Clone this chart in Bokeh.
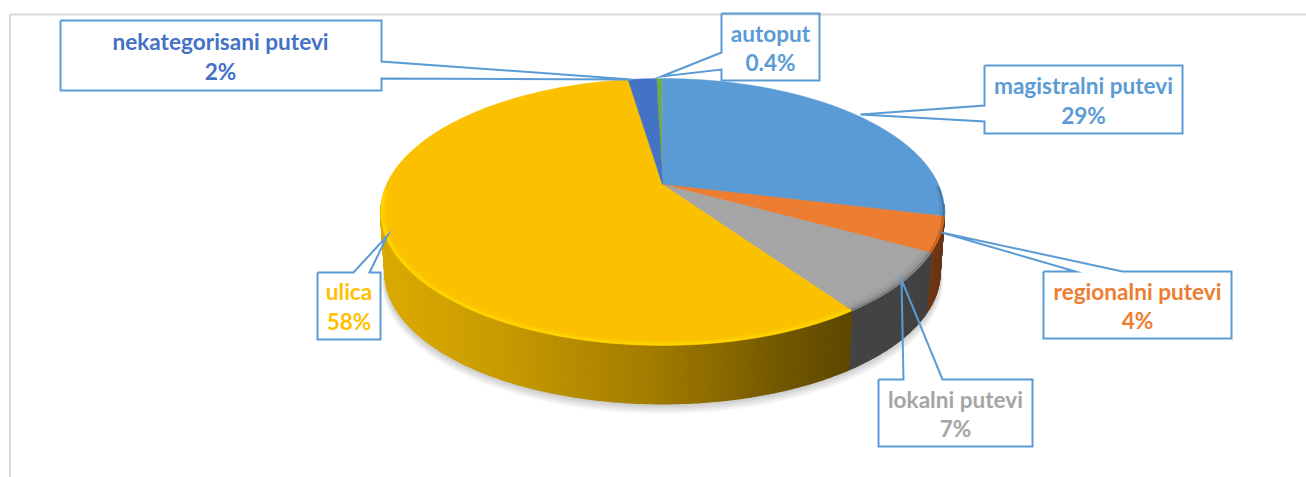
import numpy as np
from bokeh.plotting import figure
from bokeh.models import Range1d
from bokeh.core.properties import value
from bokeh.embed import file_html
from bokeh.resources import INLINE

# ---- data, in drawing order clockwise from the top
categories = ["autoput", "magistralni putevi", "regionalni putevi", "lokalni putevi", "ulica", "nekategorisani putevi"]
shares = [0.4, 29, 4.2, 7.4, 57.6, 2]      # the labels below are rounded
share_labels = ["0.4%", "29%", "4%", "7%", "58%", "2%"]
colors = ["#70AD47", "#5B9BD5", "#ED7D31", "#A5A5A5", "#FBC000", "#4472C4"]
text_colors = ["#5B9BD5", "#5B9BD5", "#ED7D31", "#A5A5A5", "#FFC000", "#4472C4"]

# ---- layout (page pixels of the screenshot)
W, H = 1306, 477
CX, CY = 662.0, 184.0
A, B, K = 276.0, 127.8, 0.206       # tilted circle -> perspective ellipse
START = -1.5                        # first slice angle, degrees
DEPTH = 61.4
LOWER = 0.985                       # the lower rim is slightly smaller
BORDER = "#5B9BD5"

label_pos = {
    "autoput": (770, 33, 62),
    "magistralni putevi": (1083, 85, 115),
    "regionalni putevi": (1137, 291, 320),
    "lokalni putevi": (955, 399, 428),
    "ulica": (348.5, 291, 321),
    "nekategorisani putevi": (220, 41, 71),
}
callouts = [
    [(60, 20), (381, 20), (381, 61), (631, 79), (381, 78), (381, 90), (60, 90)],
    [(721, 13), (721, 52), (661, 76), (721, 69), (721, 80), (819, 80), (819, 13)],
    [(984, 65), (1182, 65), (1182, 133), (984, 133), (984, 121), (860, 114), (984, 105)],
    [(1043, 271), (1075, 271), (941, 232), (1122, 271), (1231, 271), (1231, 338), (1043, 338)],
    [(878, 379), (903, 379), (901, 279), (942, 379), (1032, 379), (1032, 446), (878, 446)],
    [(317, 272), (353, 272), (387, 235), (369, 272), (380, 272), (380, 339), (317, 339)],
]


def rim(theta_deg, r=1.0, dy=0.0):
    t = np.radians(np.asarray(theta_deg, dtype=float))
    u, v = r * np.sin(t), r * np.cos(t)
    w = 1 + K * v
    return CX + A * u / w, CY + dy - B * v / w


def hexmix(stops_x, stops_rgb, x):
    rgb = [int(round(np.interp(x, stops_x, [s[i] for s in stops_rgb]))) for i in range(3)]
    return "#%02x%02x%02x" % tuple(rgb)


total = sum(shares)
edges = START + np.concatenate([[0], np.cumsum(shares)]) / total * 360.0

p = figure(width=W, height=H, x_range=Range1d(0, W), y_range=Range1d(H, 0),
           output_backend="svg", toolbar_location=None, min_border=0,
           background_fill_color="white", border_fill_color="white")
p.axis.visible = False
p.grid.visible = False
p.outline_line_color = None

# frame of the picture
p.line([9.5, 9.5, W], [H, 14, 14], line_color="#D9D9D9", line_width=2)

# soft shadow under the disc
all_t = np.linspace(0, 360, 181)
for i in range(1, 10):
    sx, sy = rim(all_t, r=LOWER + 0.0012 * i, dy=DEPTH + i * 0.9)
    p.patch(sx, sy, fill_color="black", fill_alpha=0.022, line_color=None)

# side wall, painted as thin strips so that it can carry a gradient
yellow_x = [380, 500, 650, 780, 860]
yellow_rgb = [(219, 170, 0), (200, 155, 0), (163, 124, 0), (115, 88, 0), (90, 70, 0)]
wall_styles = {
    "#5B9BD5": ([850, 945], [(60, 110, 160), (35, 70, 105)]),
    "#ED7D31": ([925, 945], [(115, 58, 20), (105, 52, 18)]),
    "#A5A5A5": ([850, 935], [(68, 68, 68), (66, 66, 66)]),
    "#FBC000": (yellow_x, yellow_rgb),
    "#70AD47": ([0, 1], [(80, 120, 50), (80, 120, 50)]),
    "#4472C4": ([0, 1], [(40, 70, 120), (40, 70, 120)]),
}
sxs, sys, scs = [], [], []
for k, c in enumerate(colors):
    a0, a1 = edges[k], edges[k + 1]
    n = max(2, int((a1 - a0) / 0.5))
    ts = np.linspace(a0, a1, n + 1)
    for t0, t1 in zip(ts[:-1], ts[1:]):
        if np.cos(np.radians((t0 + t1) / 2)) > -0.15:
            continue
        x0, y0 = rim([t0, t1])
        x1, y1 = rim([t1, t0], r=LOWER, dy=DEPTH)
        sxs.append(list(x0) + list(x1))
        sys.append(list(y0) + list(y1))
        scs.append(hexmix(*wall_styles[c], float(np.mean(x0))))
p.patches(sxs, sys, fill_color=scs, line_color=scs, line_width=1.2)

# top face
for k, c in enumerate(colors):
    ts = np.linspace(edges[k], edges[k + 1], max(3, int(shares[k] * 3)))
    x, y = rim(ts)
    p.patch([CX] + list(x), [CY] + list(y), fill_color=c, line_color=c, line_width=0.5)

# bevel along the near edge of the top face
bevel = {
    "#FBC000": [("#FFD800", 0.8, 0.994, 2.5), ("#FFD000", 0.35, 0.985, 3.0)],
    "#A5A5A5": [("#555555", 0.5, 0.995, 2.0), ("#707070", 0.3, 0.986, 2.5), ("#8A8A8A", 0.25, 0.975, 3.0)],
    "#ED7D31": [("#9A4E18", 0.5, 0.995, 2.5)],
    "#5B9BD5": [("#2F5F8C", 0.7, 0.996, 1.5), ("#3F78AD", 0.35, 0.988, 2.5)],
}
for k, c in enumerate(colors):
    if c not in bevel:
        continue
    ts = np.linspace(edges[k], edges[k + 1], 90)
    ts = ts[np.cos(np.radians(ts)) < 0.0]
    if len(ts) < 2:
        continue
    for col, alpha, r, lw in bevel[c]:
        x, y = rim(ts, r=r)
        p.line(x, y, line_color=col, line_alpha=alpha, line_width=lw)

# callouts: outlines only, the pie shows through the pointers
for pts in callouts:
    xs = [q[0] for q in pts] + [pts[0][0]]
    ys = [q[1] for q in pts] + [pts[0][1]]
    p.line(xs, ys, line_color=BORDER, line_width=2, line_join="miter")

# labels
for name, lab, col in zip(categories, share_labels, text_colors):
    lx, y1, y2 = label_pos[name]
    p.text([lx, lx], [y1, y2], text=[name, lab], text_color=col,
           text_font=value("Lato"), text_font_style="bold", text_font_size="22.6px",
           text_align="center", text_baseline="middle")

open("out.html", "w").write(file_html(p, INLINE))
